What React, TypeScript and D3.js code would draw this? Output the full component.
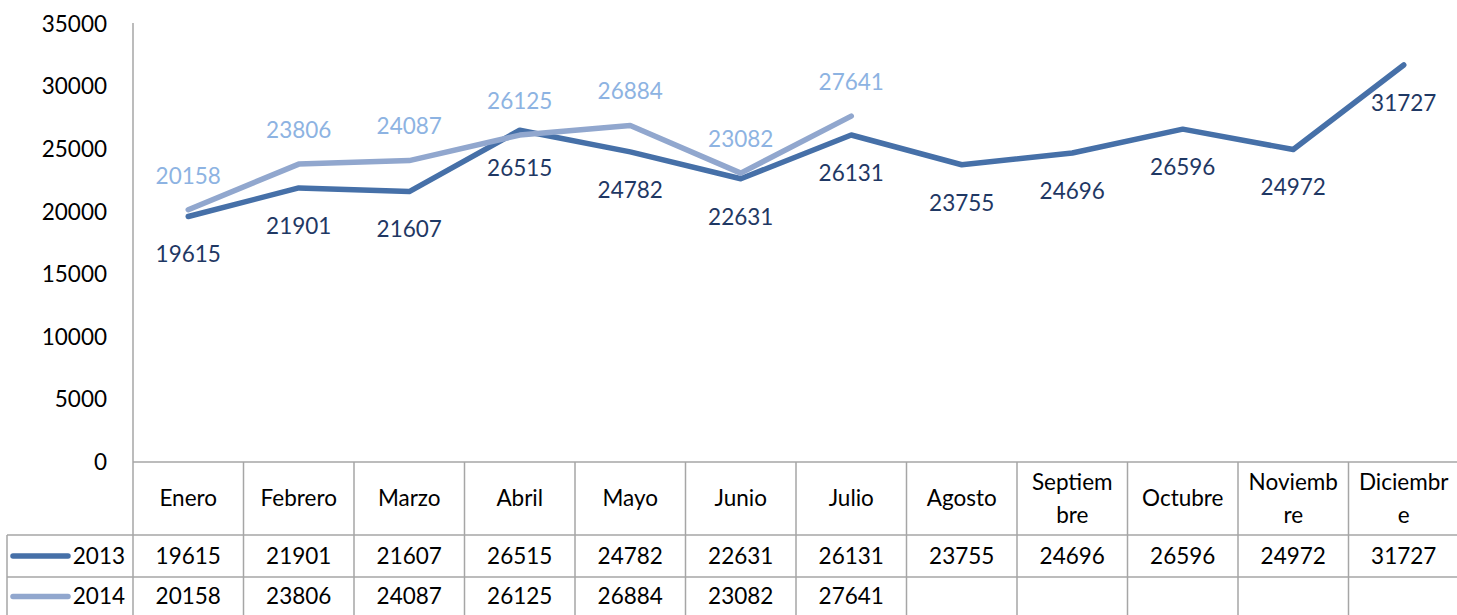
import React from "react";
import * as d3 from "d3";

const months = ["Enero","Febrero","Marzo","Abril","Mayo","Junio","Julio","Agosto","Septiembre","Octubre","Noviembre","Diciembre"];
const monthHeaderLines: string[][] = [["Enero"],["Febrero"],["Marzo"],["Abril"],["Mayo"],["Junio"],["Julio"],["Agosto"],["Septiem","bre"],["Octubre"],["Noviemb","re"],["Diciembr","e"]];
const values2013 = [19615,21901,21607,26515,24782,22631,26131,23755,24696,26596,24972,31727];
const values2014 = [20158,23806,24087,26125,26884,23082,27641];
const yTicks = [0,5000,10000,15000,20000,25000,30000,35000];

const W = 1457, H = 615;
const FONT = "Lato, 'Open Sans', sans-serif";
const FS = 22.5;

export default function App() {
  const x = d3.scaleBand<string>().domain(months).range([133, 1459]);
  const y = d3.scaleLinear().domain([0, 35000]).range([462, 24]);
  const cx = (m: string) => (x(m) as number) + x.bandwidth() / 2;
  const line = d3.line<number>().x((_, i) => cx(months[i])).y(d => y(d));

  const series = [
    { name: "2013", values: values2013, color: "#4670A8", label: "#1F3864", below: true },
    { name: "2014", values: values2014, color: "#91A7CE", label: "#8DB3E2", below: false },
  ];
  const grid = "#A6A6A6";
  const rowTops = [462, 535, 577, 620];

  return (
    <div style={{ position: "absolute", left: 0, top: 0 }}>
      <svg width={W} height={H} style={{ display: "block", fontFamily: FONT }}>
        <rect width={W} height={H} fill="#fff" />
        {yTicks.map(t => (
          <text key={t} x={107} y={y(t)} dy="0.35em" textAnchor="end" fontSize={FS} fill="#000">{t}</text>
        ))}
        {/* table lines */}
        <line x1={133} x2={133} y1={23} y2={H} stroke={grid} strokeWidth={1.5} />
        <line x1={133} x2={1460} y1={462} y2={462} stroke={grid} strokeWidth={1.5} />
        <line x1={7} x2={1460} y1={535} y2={535} stroke={grid} strokeWidth={1.5} />
        <line x1={7} x2={1460} y1={577} y2={577} stroke={grid} strokeWidth={1.5} />
        <line x1={7} x2={7} y1={535} y2={H} stroke={grid} strokeWidth={1.5} />
        {months.map(m => (
          <line key={m} x1={(x(m) as number) + x.bandwidth()} x2={(x(m) as number) + x.bandwidth()} y1={462} y2={H} stroke={grid} strokeWidth={1.5} />
        ))}
        {months.map((m, i) => {
          const lines = monthHeaderLines[i];
          const mid = (rowTops[0] + rowTops[1]) / 2;
          return lines.map((l, j) => (
            <text key={m + j} x={cx(m)} y={mid + (j - (lines.length - 1) / 2) * 33} dy="0.35em" textAnchor="middle" fontSize={FS} fill="#000">{l}</text>
          ));
        })}
        {series.map((s, si) => {
          const mid = (rowTops[si + 1] + rowTops[si + 2]) / 2 - (si === 1 ? 2 : 0);
          return (
            <g key={s.name}>
              <line x1={13} x2={68} y1={mid} y2={mid} stroke={s.color} strokeWidth={5.5} strokeLinecap="round" />
              <text x={125} y={mid} dy="0.35em" textAnchor="end" fontSize={FS} fill="#000">{s.name}</text>
              {s.values.map((v, i) => (
                <text key={i} x={cx(months[i])} y={mid} dy="0.35em" textAnchor="middle" fontSize={FS} fill="#000">{v}</text>
              ))}
            </g>
          );
        })}
        {series.map(s => (
          <path key={s.name} d={line(s.values) as string} fill="none" stroke={s.color} strokeWidth={5.5} strokeLinecap="round" strokeLinejoin="round" />
        ))}
        {series.map(s => (
          <g key={s.name + "l"}>
            {s.values.map((v, i) => (
              <text key={i} x={cx(months[i])} y={y(v) + (s.below ? 38 : -34)} dy="0.35em" textAnchor="middle" fontSize={FS} fill={s.label}>{v}</text>
            ))}
          </g>
        ))}
      </svg>
    </div>
  );
}
